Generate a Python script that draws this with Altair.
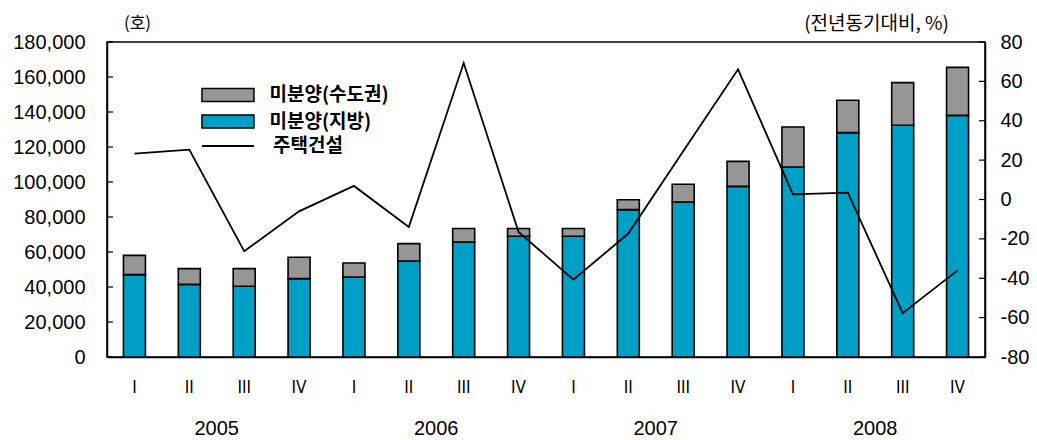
import altair as alt
import pandas as pd

years = ["2005", "2006", "2007", "2008"]
quarters = ["I", "II", "III", "IV"]

# 미분양(지방) - lower blue segment
local_units = [47100, 41500, 40400, 44800, 45700, 54900, 65700, 69000,
               69000, 84200, 88600, 97500, 108600, 128200, 132400, 138100]
# 미분양(수도권) - upper gray segment
capital_units = [11000, 9000, 10100, 12200, 8000, 9900, 7700, 4400,
                 4400, 5700, 10100, 14300, 22800, 18500, 24400, 27400]
# 주택건설 (전년동기대비, %)
housing = [23.3, 25.3, -26.3, -6.0, 6.9, -14.0, 69.3, -16.5,
           -40.7, -17.3, 24.5, 66.1, 2.6, 3.5, -57.7, -36.0]

series_names = ["미분양(수도권)", "미분양(지방)"]
line_name = "주택건설"
left_ticks = list(range(0, 180001, 20000))
right_ticks = list(range(-80, 81, 20))

keys = [f"{y}|{q}" for y in years for q in quarters]

rows = []
for i, k in enumerate(keys):
    rows.append({"key": k, "series": series_names[1], "value": local_units[i], "ord": 0})
    rows.append({"key": k, "series": series_names[0], "value": capital_units[i], "ord": 1})
bars_df = pd.DataFrame(rows)
line_df = pd.DataFrame({"key": keys, "pct": housing, "name": [line_name] * len(keys)})
year_df = pd.DataFrame({"key": [f"{y}|II" for y in years], "year": years})
left_tick_df = pd.DataFrame({"v": left_ticks})
right_tick_df = pd.DataFrame({"v": right_ticks})

W, H = 878, 315
TICK = 6
NUM_FONT = "Liberation Sans"
KR_FONT = "Noto Sans CJK KR"

x_enc = alt.X(
    "key:N", sort=keys, title=None,
    scale=alt.Scale(paddingInner=0, paddingOuter=0),
    axis=alt.Axis(labelExpr="split(datum.label, '|')[1]", labelAngle=0, ticks=False,
                  labelPadding=22, labelFont="DejaVu Sans Condensed, Liberation Sans",
                  labelFontSize=17, labelColor="black", domainColor="black", domainWidth=1.5),
)

bars = alt.Chart(bars_df).mark_bar(size=22, stroke="black", strokeWidth=1.6).encode(
    x=x_enc,
    y=alt.Y("sum(value):Q", stack="zero",
            scale=alt.Scale(domain=[0, 180000], nice=False),
            axis=alt.Axis(values=left_ticks, format=",.0f", grid=False, ticks=False,
                          domainColor="black", domainWidth=1.5,
                          labelFont=NUM_FONT, labelFontSize=20, labelColor="black",
                          labelPadding=22,
                          title="(호)", titleAngle=0, titleAlign="center",
                          titleBaseline="middle", titleX=30, titleY=-19,
                          titleFont=KR_FONT, titleFontSize=17, titleFontWeight="normal",
                          titleColor="black")),
    fill=alt.Fill("series:N",
                  scale=alt.Scale(domain=series_names, range=["#969696", "#00A0C6"]),
                  legend=alt.Legend(title=None, orient="none", legendX=94.7, legendY=39,
                                    symbolType="M-2,-0.5H2V0.5H-2Z", symbolSize=676,
                                    symbolOffset=12.25,
                                    symbolStrokeColor="black", symbolStrokeWidth=1.5,
                                    symbolOpacity=1, labelFont=KR_FONT, labelFontSize=19,
                                    labelFontWeight="bold", labelColor="black",
                                    labelOffset=27.5, rowPadding=2.5, padding=0)),
    order=alt.Order("ord:Q"),
)

left_ticks_layer = alt.Chart(left_tick_df).mark_rule(color="black", strokeWidth=1.2).encode(
    y=alt.Y("v:Q", scale=alt.Scale(domain=[0, 180000], nice=False), axis=None),
    x=alt.value(0), x2=alt.value(TICK),
)

line = alt.Chart(line_df).mark_line(strokeWidth=1.8).encode(
    x=alt.X("key:N", sort=keys),
    y=alt.Y("pct:Q", scale=alt.Scale(domain=[-80, 80], nice=False),
            axis=alt.Axis(orient="right", values=right_ticks, grid=False, ticks=False,
                          domainColor="black", domainWidth=1.5,
                          labelExpr="'' + datum.value",
                          labelFont=NUM_FONT, labelFontSize=20, labelColor="black",
                          labelPadding=15,
                          title="(전년동기대비, %)", titleAngle=0, titleAlign="center",
                          titleBaseline="middle", titleX=-109, titleY=-19,
                          titleFont=KR_FONT, titleFontSize=19, titleFontWeight="normal",
                          titleColor="black")),
    stroke=alt.Stroke("name:N", scale=alt.Scale(domain=[line_name], range=["black"]),
                      legend=alt.Legend(title=None, orient="none", legendX=94, legendY=77,
                                        symbolType="stroke", symbolSize=2704,
                                        symbolStrokeWidth=1.8, labelFont=KR_FONT,
                                        labelFontSize=19, labelFontWeight="bold",
                                        labelColor="black", labelOffset=18, padding=0)),
)

right_ticks_layer = alt.Chart(right_tick_df).mark_rule(color="black", strokeWidth=1.2).encode(
    y=alt.Y("v:Q", scale=alt.Scale(domain=[-80, 80], nice=False), axis=None),
    x=alt.value(W - TICK), x2=alt.value(W),
)

year_text = alt.Chart(year_df).mark_text(
    dx=W / 32, font=NUM_FONT, fontSize=20, color="black", baseline="middle"
).encode(
    x=alt.X("key:N", sort=keys),
    y=alt.value(387),
    text="year:N",
)

chart = (
    alt.layer(bars, line, left_ticks_layer, right_ticks_layer, year_text)
    .resolve_scale(y="independent")
    .properties(width=W, height=H,
                autosize=alt.AutoSizeParams(type="none"),
                padding={"left": 99, "top": 34, "right": 44, "bottom": 85})
    .configure_view(stroke="black", strokeWidth=1.5)
)

chart.save("out.html", embed_options={"renderer": "svg", "actions": False})
